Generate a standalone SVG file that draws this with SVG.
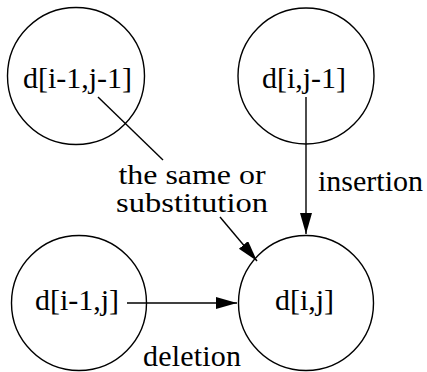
<svg xmlns="http://www.w3.org/2000/svg" width="427" height="372" viewBox="0 0 427 372">
<style>
.node circle{fill:none;stroke:#000;stroke-width:1.4}
.t{font-family:'Liberation Serif','DejaVu Serif',serif;font-size:30px;fill:#000}
.s{font-size:27px}
.c{text-anchor:middle}
.edge{stroke:#000;stroke-width:1.4;fill:none}
</style>
<defs>
<marker id="ah" markerUnits="userSpaceOnUse" markerWidth="22" markerHeight="13" refX="21" refY="6" orient="auto">
<path d="M0,0 L21,6 L0,12 z" fill="#000"/>
</marker>
</defs>
<rect width="427" height="372" fill="#fff"/>
<g id="edges">
<line class="edge" x1="98" y1="97" x2="163" y2="160"/>
<line class="edge" x1="220" y1="217" x2="257" y2="261" marker-end="url(#ah)"/>
<line class="edge" x1="306" y1="97" x2="306" y2="234" marker-end="url(#ah)"/>
<line class="edge" x1="127" y1="303" x2="237" y2="303" marker-end="url(#ah)"/>
<text x="192" y="184" class="t s c" font-family="Liberation Serif, DejaVu Serif, serif" textLength="147" lengthAdjust="spacingAndGlyphs">the same or</text>
<text x="192" y="212" class="t s c" font-family="Liberation Serif, DejaVu Serif, serif" textLength="152" lengthAdjust="spacingAndGlyphs">substitution</text>
<text x="318" y="191" class="t" font-family="Liberation Serif, DejaVu Serif, serif" textLength="105">insertion</text>
<text x="143" y="366" class="t" font-family="Liberation Serif, DejaVu Serif, serif" textLength="98">deletion</text>
</g>
<g id="n1" class="node"><circle cx="76" cy="76" r="68.5"/><text x="77.5" y="88" class="t c" font-family="Liberation Serif, DejaVu Serif, serif">d[i-1,j-1]</text></g>
<g id="n2" class="node"><circle cx="306" cy="76" r="68"/><text x="304" y="88" class="t c" font-family="Liberation Serif, DejaVu Serif, serif">d[i,j-1]</text></g>
<g id="n3" class="node"><circle cx="79" cy="303" r="67.5"/><text x="77" y="310" class="t c" font-family="Liberation Serif, DejaVu Serif, serif">d[i-1,j]</text></g>
<g id="n4" class="node"><circle cx="306" cy="303" r="67.5"/><text x="304.5" y="310" class="t c" font-family="Liberation Serif, DejaVu Serif, serif">d[i,j]</text></g>
</svg>
